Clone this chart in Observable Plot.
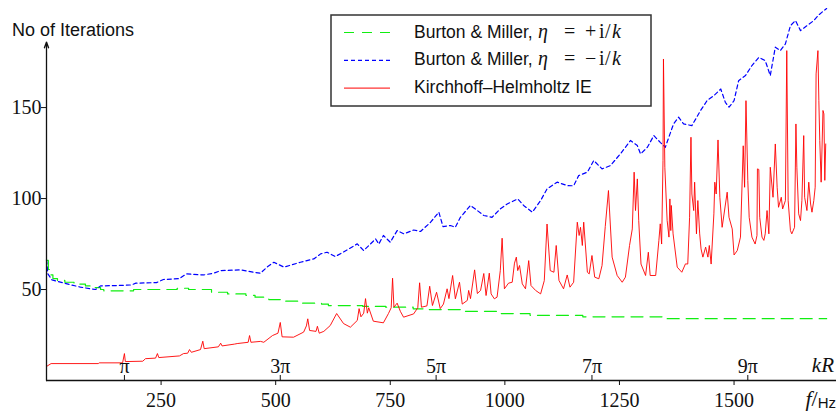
<!DOCTYPE html>
<html><head><meta charset="utf-8">
<script src="https://cdn.jsdelivr.net/npm/d3@7"></script>
<script src="https://cdn.jsdelivr.net/npm/@observablehq/plot@0.6"></script>
<style>body{margin:0;background:#fff} #chart svg{display:block}</style>
</head><body><div id="chart"></div>
<script>
// Burton & Miller, eta = +i/k (green, stepwise)
const greenF = [0,4,8,14,24,40,60,85,105,118,125,190,285,310,360,395,435,455,478,485,522,558,600,615,690,740,800,830,903,985,1055,1170,1350,1702];
const greenV = [66,61,58,56,55,54,53,52,51,50,49.3,50,50.7,50,48.5,47.6,46.8,45.8,45.2,44.5,43.6,42.5,42,41.2,40.7,40.3,39.4,39,38,36.8,35.8,35,34,34];
// Burton & Miller, eta = -i/k (blue)
const blueF = [0,3,12,45,74,107,118,155,185,195,240,255,290,305,343,365,380,423,452,467,481,496,518,554,583,598,612,630,656,678,692,718,725,735,750,765,780,801,816,838,856,865,881,892,903,925,940,954,972,990,1005,1028,1041,1060,1078,1092,1114,1136,1150,1161,1180,1194,1212,1230,1252,1274,1289,1296,1311,1325,1339,1350,1368,1379,1390,1408,1427,1441,1456,1471,1481,1489,1500,1510,1525,1539,1554,1568,1579,1590,1601,1612,1623,1634,1645,1659,1674,1683,1696,1702];
const blueV = [66.3,58.6,55.3,53.1,51.3,50,52,52.2,52.5,53.5,53.8,55.5,56,58.6,58,59,60.4,60.8,59.5,59,62.3,65,62.3,65,66.8,69.6,70.5,68.1,71.8,75.1,71.4,77.8,75,79.7,76,82.4,80.6,82.7,81.9,87,92.5,84.6,85.2,84.2,89.7,96.2,93.4,90.7,89.7,94.3,97,99.8,96.2,92.5,98.9,105.3,109,107.1,107,112.6,114.5,120.9,116.3,118.1,124.5,131.9,129.1,124.5,128.2,134.6,130.9,128.2,141,144.7,141,140.1,148.4,153.8,156.6,160.2,152.9,150.2,153.8,164.8,167.6,173.1,177.6,175.8,167.6,183.2,181.3,185,195,197.8,192.3,195,197.8,200.5,203.3,204.4];
// Kirchhoff-Helmholtz IE (red)
const redF = [0,10,113,115,166,170,172,210,216,238,242,245,290,299,308,312,316,336,341,344,375,380,383,410,416,440,443,446,467,474,493,505,510,514,539,561,567,570,574,588,591,595,605,619,633,648,663,678,682,686,692,696,700,703,713,735,746,752,755,758,765,772,779,801,810,814,818,830,836,842,851,859,866,874,878,886,892,901,907,918,921,925,934,940,947,954,959,966,970,977,983,990,994,999,1008,1016,1021,1025,1028,1032,1038,1045,1052,1057,1067,1078,1086,1092,1099,1107,1112,1118,1128,1136,1142,1150,1158,1162,1165,1169,1172,1180,1184,1190,1196,1205,1212,1219,1226,1230,1234,1245,1256,1263,1272,1278,1282,1285,1289,1292,1297,1307,1313,1317,1329,1336,1339,1342,1345,1346,1349,1354,1358,1360,1362,1363,1367,1376,1386,1394,1399,1403,1406,1408,1412,1414,1418,1421,1425,1428,1432,1438,1443,1446,1450,1456,1458,1461,1465,1469,1474,1485,1489,1496,1500,1507,1514,1520,1523,1526,1530,1533,1539,1546,1550,1551,1554,1556,1561,1565,1568,1572,1576,1579,1585,1590,1594,1597,1603,1606,1612,1615,1618,1623,1626,1632,1635,1637,1641,1645,1648,1652,1654,1659,1663,1667,1670,1674,1677,1679,1683,1685,1687,1690,1694,1696,1698,1700];
const redV = [7.7,9.3,9.3,9.7,9.7,14.8,10.4,10.6,12,12.3,14.8,12.6,13.5,14.8,15,17,15.5,17,21.6,17.5,18.5,20.5,19,20,20.3,21,24.7,21,21.5,21,24.7,26,31.9,24,23.8,26.6,30,33.9,27.5,27,29.8,26,27,30.2,36.8,31.3,29.3,33,39.5,35,37,45,37,40,32.6,31.7,36.8,40,56.2,40.3,42.5,38,34.8,36.6,40,53.7,40.3,41,51.8,41.2,48.5,39.5,42,50.4,45,57.7,44.9,54,42,44,49.5,45,60.8,47.8,49.5,58.8,46.7,59,47.6,44.9,45.8,60.4,78.2,50.4,53.5,54,64.5,67.8,60.4,63.2,53.1,50.4,65.9,52.2,49.5,47.6,54.9,86,60.4,59.5,74.2,55,50.4,58,51.3,54,87,79.7,84.2,74.2,87,59.5,58.6,68.7,56.8,55.9,63.2,84.6,104.4,86,67.8,57.7,54,56.8,74.2,83.3,114.5,93.4,110.8,88,64,57.7,70.5,57.7,57.7,77,86.1,75,120.9,176.7,117.2,88,78.8,99.8,82.4,96.2,80.6,62.3,59.5,64.1,64,89.7,133.7,102.5,93.4,109,80.6,98.9,80.6,72.3,67.8,73.3,67.8,74.2,64,91.6,109,102.5,132.2,100.7,84.2,103.5,89.7,83.3,69,71.4,78.8,129,106.2,153.8,109.9,89.7,78.8,75,79.7,116.3,116,89.7,78.8,77,80.6,93.4,80.6,117.2,100.7,130,106.2,95.2,100.7,94.3,98.9,181.3,98.9,82.4,80.6,84.2,141,117.2,91.6,87.9,98.9,134.6,100.7,93.4,109,97,92.5,98.9,106.2,168.5,181.3,153.8,131.9,109,148.4,146.5,110,130];

const fTicks = [250,500,750,1000,1250,1500];
const yTicks = [50,100,150];
const kRFreqs = [170,510,850,1190,1530];
const kRLabels = ["π","3π","5π","7π","9π"];
const xMax = 1723.5, yMax = 205, yAxisTop = 186;

const toRows = (F, V) => F.map((f, i) => ({f, v: V[i]}));
const green = toRows(greenF, greenV);
const blue = toRows(blueF, blueV);
const red = toRows(redF, redV);

const serif = "'Liberation Serif', 'DejaVu Serif', serif";
const sans = "'Liberation Sans', Arial, sans-serif";
const ink = "#111";
const cGreen = "#11ee11", cBlue = "#0000ff", cRed = "#ff0000";

const chart = Plot.plot({
  width: 836, height: 414,
  marginLeft: 46, marginRight: 0, marginTop: 7, marginBottom: 34,
  x: {domain: [0, xMax], axis: null},
  y: {domain: [0, yMax], axis: null},
  style: {fontFamily: serif, background: "white", overflow: "visible", color: ink},
  marks: [
    Plot.line(green, {x: "f", y: "v", curve: "step-after", stroke: cGreen, strokeWidth: 1.2, strokeDasharray: "12,7"}),
    Plot.line(blue, {x: "f", y: "v", stroke: cBlue, strokeWidth: 1.2, strokeDasharray: "4,3"}),
    Plot.line(red, {x: "f", y: "v", stroke: cRed, strokeWidth: 0.9}),
    Plot.ruleY([0], {x1: 0, x2: xMax, strokeWidth: 1.3}),
    Plot.arrow([{x: 0, y1: 0, y2: yAxisTop}], {x1: "x", x2: "x", y1: "y1", y2: "y2", headLength: 7, headAngle: 40, strokeWidth: 1.3}),
    Plot.axisY({ticks: yTicks, tickSize: 5, tickFormat: () => "", label: null}),
    Plot.text(yTicks, {x: 0, y: d => d, text: d => String(d), textAnchor: "end", dx: -5, fontSize: 20, fontFamily: serif, fill: ink}),
    Plot.axisX({ticks: fTicks, tickSize: 5, tickFormat: () => "", label: null}),
    Plot.text(fTicks, {x: d => d, y: 0, text: d => String(d), dy: 20, fontSize: 20, fontFamily: serif, fill: ink}),
    Plot.ruleX(kRFreqs, {y1: 0, y2: 2.75, strokeWidth: 1}),
    Plot.text(kRFreqs, {x: d => d, y: 0, text: (d, i) => kRLabels[i], dy: -14, fontSize: 20, fontFamily: serif, fill: ink})
  ]
});
document.getElementById("chart").appendChild(chart);

const svg = d3.select(chart);
// y label
svg.append("text").attr("x", 12).attr("y", 36).attr("text-anchor", "start").attr("font-family", sans).attr("font-size", 18).attr("fill", ink).text("No of Iterations");
// kR label
svg.append("text").attr("x", 834).attr("y", 372).attr("text-anchor", "end").attr("font-family", serif).attr("font-style", "italic").attr("font-size", 21).attr("fill", ink).text("kR");
// f/Hz label
const fl = svg.append("text").attr("x", 836).attr("y", 406).attr("text-anchor", "end").attr("fill", ink);
fl.append("tspan").attr("font-family", serif).attr("font-style", "italic").attr("font-size", 22).text("f");
fl.append("tspan").attr("font-family", serif).attr("font-size", 22).text("/");
fl.append("tspan").attr("font-family", sans).attr("font-size", 15).attr("dy", 2).text("Hz");

// legend
const lg = svg.append("g");
lg.append("rect").attr("x", 331).attr("y", 15).attr("width", 320).attr("height", 91).attr("fill", "white").attr("stroke", "#333").attr("stroke-width", 1.5);
const items = [
  {c: cGreen, dash: "10,8", w: 1.2, pre: "Burton & Miller,", sign: "+"},
  {c: cBlue, dash: "4,3", w: 1.2, pre: "Burton & Miller,", sign: "−"},
  {c: cRed, dash: null, w: 1, pre: "Kirchhoff–Helmholtz IE", sign: null}
];
items.forEach((it, i) => {
  const ly = 32.5 + i * 27.8;
  const ln = lg.append("line").attr("x1", 344).attr("x2", 390).attr("y1", ly).attr("y2", ly).attr("stroke", it.c).attr("stroke-width", it.w);
  if (it.dash) ln.attr("stroke-dasharray", it.dash);
  const t = lg.append("text").attr("x", 414).attr("y", ly + 5).attr("text-anchor", "start").attr("fill", ink).attr("font-size", 17.5).attr("font-family", sans);
  t.append("tspan").text(it.pre);
  if (it.sign) {
    const m = (x, s, italic) => t.append("tspan").attr("x", x).attr("font-family", serif).attr("font-size", 20).attr("font-style", italic ? "italic" : "normal").text(s);
    m(538, "η", true);
    m(564, "=", false);
    m(585, it.sign, false);
    m(599, "i", false);
    m(605, "/", false);
    m(612, "k", true);
  }
});
</script></body></html>
